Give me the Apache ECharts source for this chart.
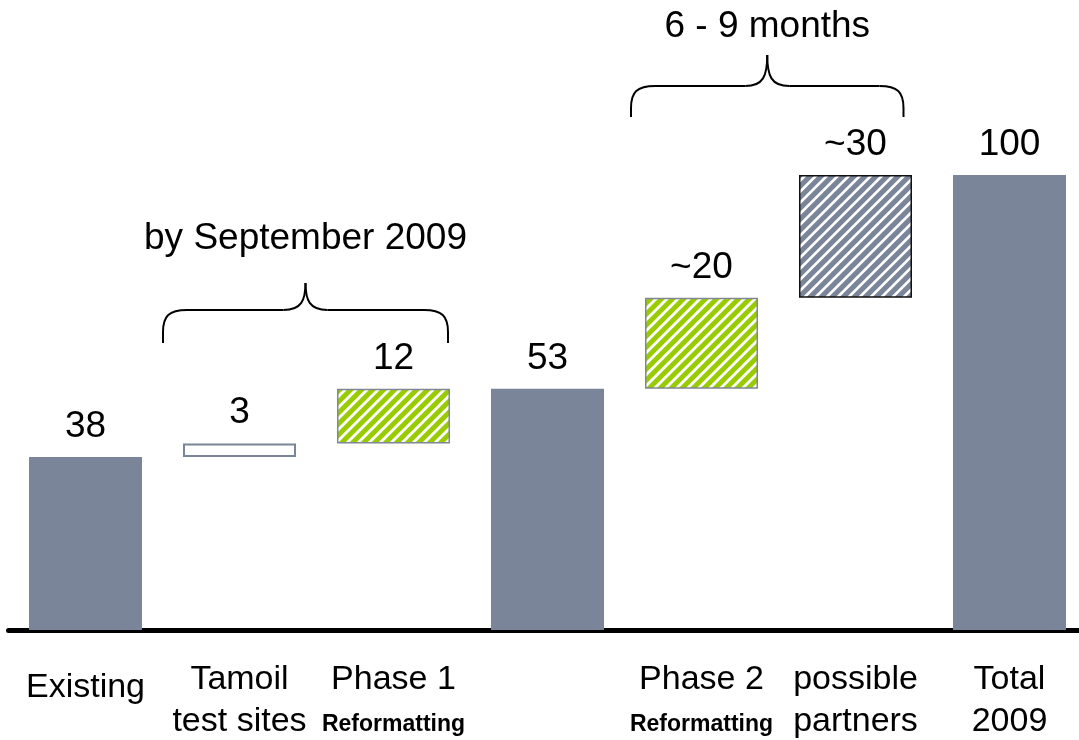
<!DOCTYPE html>
<html>
<head>
<meta charset="utf-8">
<script src="https://cdn.jsdelivr.net/npm/echarts@6/dist/echarts.min.js"></script>
<style>
  html, body { margin: 0; padding: 0; background: #fff; overflow: hidden; }
  #chart { width: 1088px; height: 740px; }
</style>
</head>
<body>
<div id="chart"></div>
<script>
// Site roll-out waterfall: existing sites, additions, and the 2009 total
const categories = ['Existing', 'Tamoil\ntest sites', 'Phase 1', '', 'Phase 2', 'possible\npartners', 'Total\n2009'];
const categoryNotes = ['', '', 'Reformatting', '', 'Reformatting', '', ''];
const stepKinds = ['total', 'step', 'step', 'total', 'step', 'step', 'total'];
const values = [38, 3, 12, 53, 20, 27, 100];
const valueLabels = ['38', '3', '12', '53', '~20', '~30', '100'];
const bracketGroups = [
  { from: 1, to: 2, text: 'by September 2009' },
  { from: 4, to: 5, text: '6 - 9 months' }
];

// floating offsets for the incremental steps
const bases = [];
let running = 0;
values.forEach((v, i) => {
  if (stepKinds[i] === 'total') { bases.push(0); running = v; }
  else { bases.push(running); running += v; }
});

const FONT = "'Liberation Sans', Arial, Helvetica, sans-serif";
const SLATE = '#7a8599';
const GREEN = '#99cc00';

// seamless "/" hatch tile, supersampled for soft stripe edges
function stripes(bg, fg, fgWidth) {
  const P = 11, SS = 4;
  const hex = h => [1, 3, 5].map(i => parseInt(h.slice(i, i + 2), 16));
  const b = hex(bg), f = hex(fg);
  const c = document.createElement('canvas');
  c.width = c.height = P;
  const g = c.getContext('2d');
  const img = g.createImageData(P, P);
  for (let y = 0; y < P; y++) {
    for (let x = 0; x < P; x++) {
      let hit = 0;
      for (let j = 0; j < SS; j++) {
        for (let i = 0; i < SS; i++) {
          const t = (x + (i + 0.5) / SS + y + (j + 0.5) / SS) % P;
          if (t < fgWidth) hit++;
        }
      }
      const a = hit / (SS * SS);
      const o = (y * P + x) * 4;
      for (let k = 0; k < 3; k++) img.data[o + k] = Math.round(b[k] * (1 - a) + f[k] * a);
      img.data[o + 3] = 255;
    }
  }
  g.putImageData(img, 0, 0);
  return c;
}

const looks = {
  solid: { color: SLATE },
  outline: { color: '#ffffff', borderColor: SLATE, borderWidth: 2 },
  greenHatch: { color: { image: stripes('#ffffff', GREEN, 6.8), repeat: 'repeat' }, borderColor: '#7f8797', borderWidth: 1.5 },
  greyHatch: { color: { image: stripes(SLATE, '#ffffff', 3.6), repeat: 'repeat' }, borderColor: '#111111', borderWidth: 1.5 }
};
const lookOf = ['solid', 'outline', 'greenHatch', 'solid', 'greenHatch', 'greyHatch', 'solid'];

const chart = echarts.init(document.getElementById('chart'), null, { renderer: 'canvas' });

chart.setOption({
  animation: false,
  backgroundColor: '#ffffff',
  grid: { left: 8.5, top: 175, width: 1078, bottom: 110, containLabel: false },
  xAxis: {
    type: 'category',
    data: categories,
    axisTick: { show: false },
    axisLine: { lineStyle: { color: '#000', width: 5, cap: 'round' } },
    axisLabel: {
      interval: 0,
      margin: 29,
      color: '#000',
      fontFamily: FONT,
      formatter: (val, idx) => {
        const lines = val.split('\n');
        const note = categoryNotes[idx];
        if (lines.length === 1 && !note) return val ? '{solo|' + val + '}' : '';
        let out = lines.map(l => '{main|' + l + '}').join('\n');
        if (note) out += '\n{note|' + note + '}';
        return out;
      },
      rich: {
        main: { fontSize: 34, lineHeight: 42, fontFamily: FONT, color: '#000' },
        solo: { fontSize: 34, lineHeight: 58, fontFamily: FONT, color: '#000' },
        note: { fontSize: 23, fontWeight: 'bold', lineHeight: 48, fontFamily: FONT, color: '#000' }
      }
    }
  },
  yAxis: { type: 'value', min: 0, max: 100, show: false, splitLine: { show: false } },
  series: [
    {
      type: 'bar', stack: 'w', silent: true, barWidth: 113,
      itemStyle: { color: 'rgba(0,0,0,0)' },
      data: bases
    },
    {
      type: 'bar', stack: 'w', barWidth: 113,
      data: values.map((v, i) => ({ value: v, itemStyle: looks[lookOf[i]] })),
      label: {
        show: true, position: 'top', distance: 12,
        fontSize: 37, fontFamily: FONT, color: '#000',
        formatter: p => valueLabels[p.dataIndex]
      }
    }
  ]
});

// curly brackets over grouped steps, with their captions
const px = (i, v) => chart.convertToPixel({ xAxisIndex: 0, yAxisIndex: 0 }, [i, v]);
const bracketShapes = [
  { left: -76.5, right: 54.5, foot: 343, bar: 310, tip: 283, caption: 239 },
  { left: -70.5, right: 48, foot: 117, bar: 86, tip: 55, caption: 27 }
];
const ink = { stroke: '#000', lineWidth: 2, fill: null };
function braceParts(x0, x1, yFoot, yBar, yTip) {
  const m = (x0 + x1) / 2;
  const r = 22;
  return [
    { type: 'line', shape: { x1: x0, y1: yFoot, x2: x0, y2: yBar + r }, style: ink },
    { type: 'bezierCurve', shape: { x1: x0, y1: yBar + r, cpx1: x0, cpy1: yBar + 6, cpx2: x0 + 6, cpy2: yBar, x2: x0 + r + 2, y2: yBar }, style: ink },
    { type: 'line', shape: { x1: x0 + r + 2, y1: yBar, x2: m - 22, y2: yBar }, style: ink },
    { type: 'bezierCurve', shape: { x1: m - 22, y1: yBar, cpx1: m - 4, cpy1: yBar, cpx2: m, cpy2: yBar - 10, x2: m, y2: yTip }, style: ink },
    { type: 'bezierCurve', shape: { x1: m, y1: yTip, cpx1: m, cpy1: yBar - 10, cpx2: m + 4, cpy2: yBar, x2: m + 22, y2: yBar }, style: ink },
    { type: 'line', shape: { x1: m + 22, y1: yBar, x2: x1 - r - 2, y2: yBar }, style: ink },
    { type: 'bezierCurve', shape: { x1: x1 - r - 2, y1: yBar, cpx1: x1 - 6, cpy1: yBar, cpx2: x1, cpy2: yBar + 6, x2: x1, y2: yBar + r }, style: ink },
    { type: 'line', shape: { x1: x1, y1: yBar + r, x2: x1, y2: yFoot }, style: ink }
  ];
}
const graphics = [];
bracketGroups.forEach((g, k) => {
  const s = bracketShapes[k];
  const x0 = px(g.from, 0)[0] + s.left;
  const x1 = px(g.to, 0)[0] + s.right;
  graphics.push({ type: 'group', children: braceParts(x0, x1, s.foot, s.bar, s.tip) });
  graphics.push({
    type: 'text',
    x: (x0 + x1) / 2, y: s.caption,
    style: { text: g.text, fontSize: 37, fontFamily: FONT, fill: '#000', align: 'center', verticalAlign: 'middle' }
  });
});
chart.setOption({ graphic: graphics });
</script>
</body>
</html>
